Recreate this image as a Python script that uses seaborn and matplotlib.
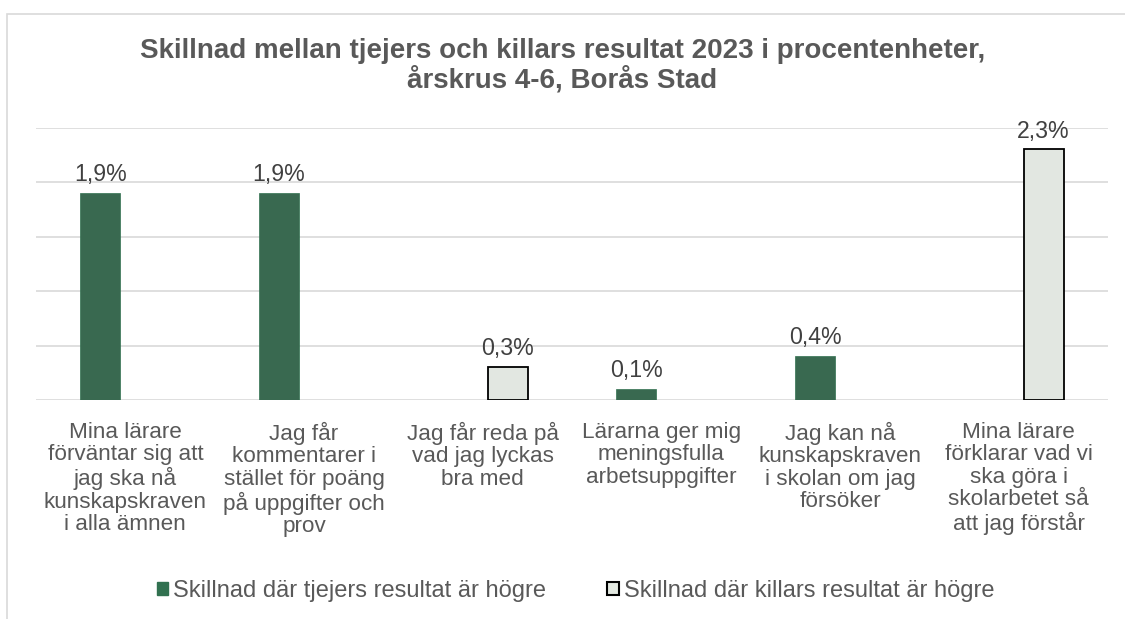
import matplotlib
matplotlib.use("Agg")
import matplotlib.pyplot as plt
import seaborn as sns
import pandas as pd
from matplotlib.patches import Rectangle

categories = [
    "Mina lärare\nförväntar sig att\njag ska nå\nkunskapskraven\ni alla ämnen",
    "Jag får\nkommentarer i\nstället för poäng\npå uppgifter och\nprov",
    "Jag får reda på\nvad jag lyckas\nbra med",
    "Lärarna ger mig\nmeningsfulla\narbetsuppgifter",
    "Jag kan nå\nkunskapskraven\ni skolan om jag\nförsöker",
    "Mina lärare\nförklarar vad vi\nska göra i\nskolarbetet så\natt jag förstår",
]
series_names = ["Skillnad där tjejers resultat är högre",
                "Skillnad där killars resultat är högre"]
girls_higher = [1.9, 1.9, None, 0.1, 0.4, None]
boys_higher = [None, None, 0.3, None, None, 2.3]
title = "Skillnad mellan tjejers och killars resultat 2023 i procentenheter,\nårskrus 4-6, Borås Stad"

rows = []
for c, g, b in zip(categories, girls_higher, boys_higher):
    if g is not None:
        rows.append({"cat": c, "serie": series_names[0], "val": g})
    if b is not None:
        rows.append({"cat": c, "serie": series_names[1], "val": b})
df = pd.DataFrame(rows)

sns.set_theme(style="white")
plt.rcParams["font.family"] = ["Liberation Sans", "DejaVu Sans"]
TXT = "#595959"
GREEN = "#317150"
LIGHT = "#E2E8E0"

fig = plt.figure(figsize=(11.25, 6.19), dpi=100)
ax = fig.add_axes([36/1125, 1-400/619, (1108-36)/1125, (400-127.7)/619])

sns.barplot(data=df, x="cat", y="val", hue="serie", order=categories,
            hue_order=series_names, palette=[GREEN, LIGHT], width=0.56, gap=0.2,
            dodge=True, ax=ax, legend=False, errorbar=None)

for i, cont in enumerate(ax.containers):
    for p in cont:
        if i == 1:
            p.set_edgecolor("black")
            p.set_linewidth(1.3)
        else:
            p.set_edgecolor(GREEN)
            p.set_linewidth(0.5)
    labels = [("" if (v != v) else f"{v:.1f}%".replace(".", ",")) for v in cont.datavalues]
    ax.bar_label(cont, labels=labels, padding=5, fontsize=16.7, color="#404040")

ax.set_ylim(0, 2.5)
ax.set_xlim(-0.5, 5.5)
ax.set_yticks([0, 0.5, 1.0, 1.5, 2.0, 2.5])
ax.yaxis.grid(True, color="#D9D9D9", linewidth=1.2)
ax.set_axisbelow(True)
ax.tick_params(axis="y", left=False, labelleft=False)
ax.tick_params(axis="x", bottom=False, pad=9.5, labelsize=16.2, labelcolor=TXT)
for lab in ax.get_xticklabels():
    lab.set_linespacing(1.1)
for s in ax.spines.values():
    s.set_visible(False)
ax.set_xlabel("")
ax.set_ylabel("")

fig.text(0.5, 1-66/619, title, ha="center", va="center", fontsize=20,
         fontweight="bold", color=TXT, linespacing=1.1)

handles = [Rectangle((0, 0), 1, 1, facecolor=GREEN, edgecolor=GREEN),
           Rectangle((0, 0), 1, 1, facecolor=LIGHT, edgecolor="black", linewidth=1.5)]
fig.legend(handles, series_names, loc="center", bbox_to_anchor=(575.5/1125, 1-591/619),
           ncol=2, frameon=False, fontsize=17, labelcolor=TXT,
           handlelength=0.5, handleheight=0.5, handletextpad=0.2, columnspacing=2.6)

fig.patches.append(Rectangle((6.5/1125, -0.2), 1.2, 0.2 + (1-13.5/619), transform=fig.transFigure,
                             fill=False, edgecolor="#D9D9D9", linewidth=1.2))

fig.savefig("out.png", dpi=100, facecolor="white")
